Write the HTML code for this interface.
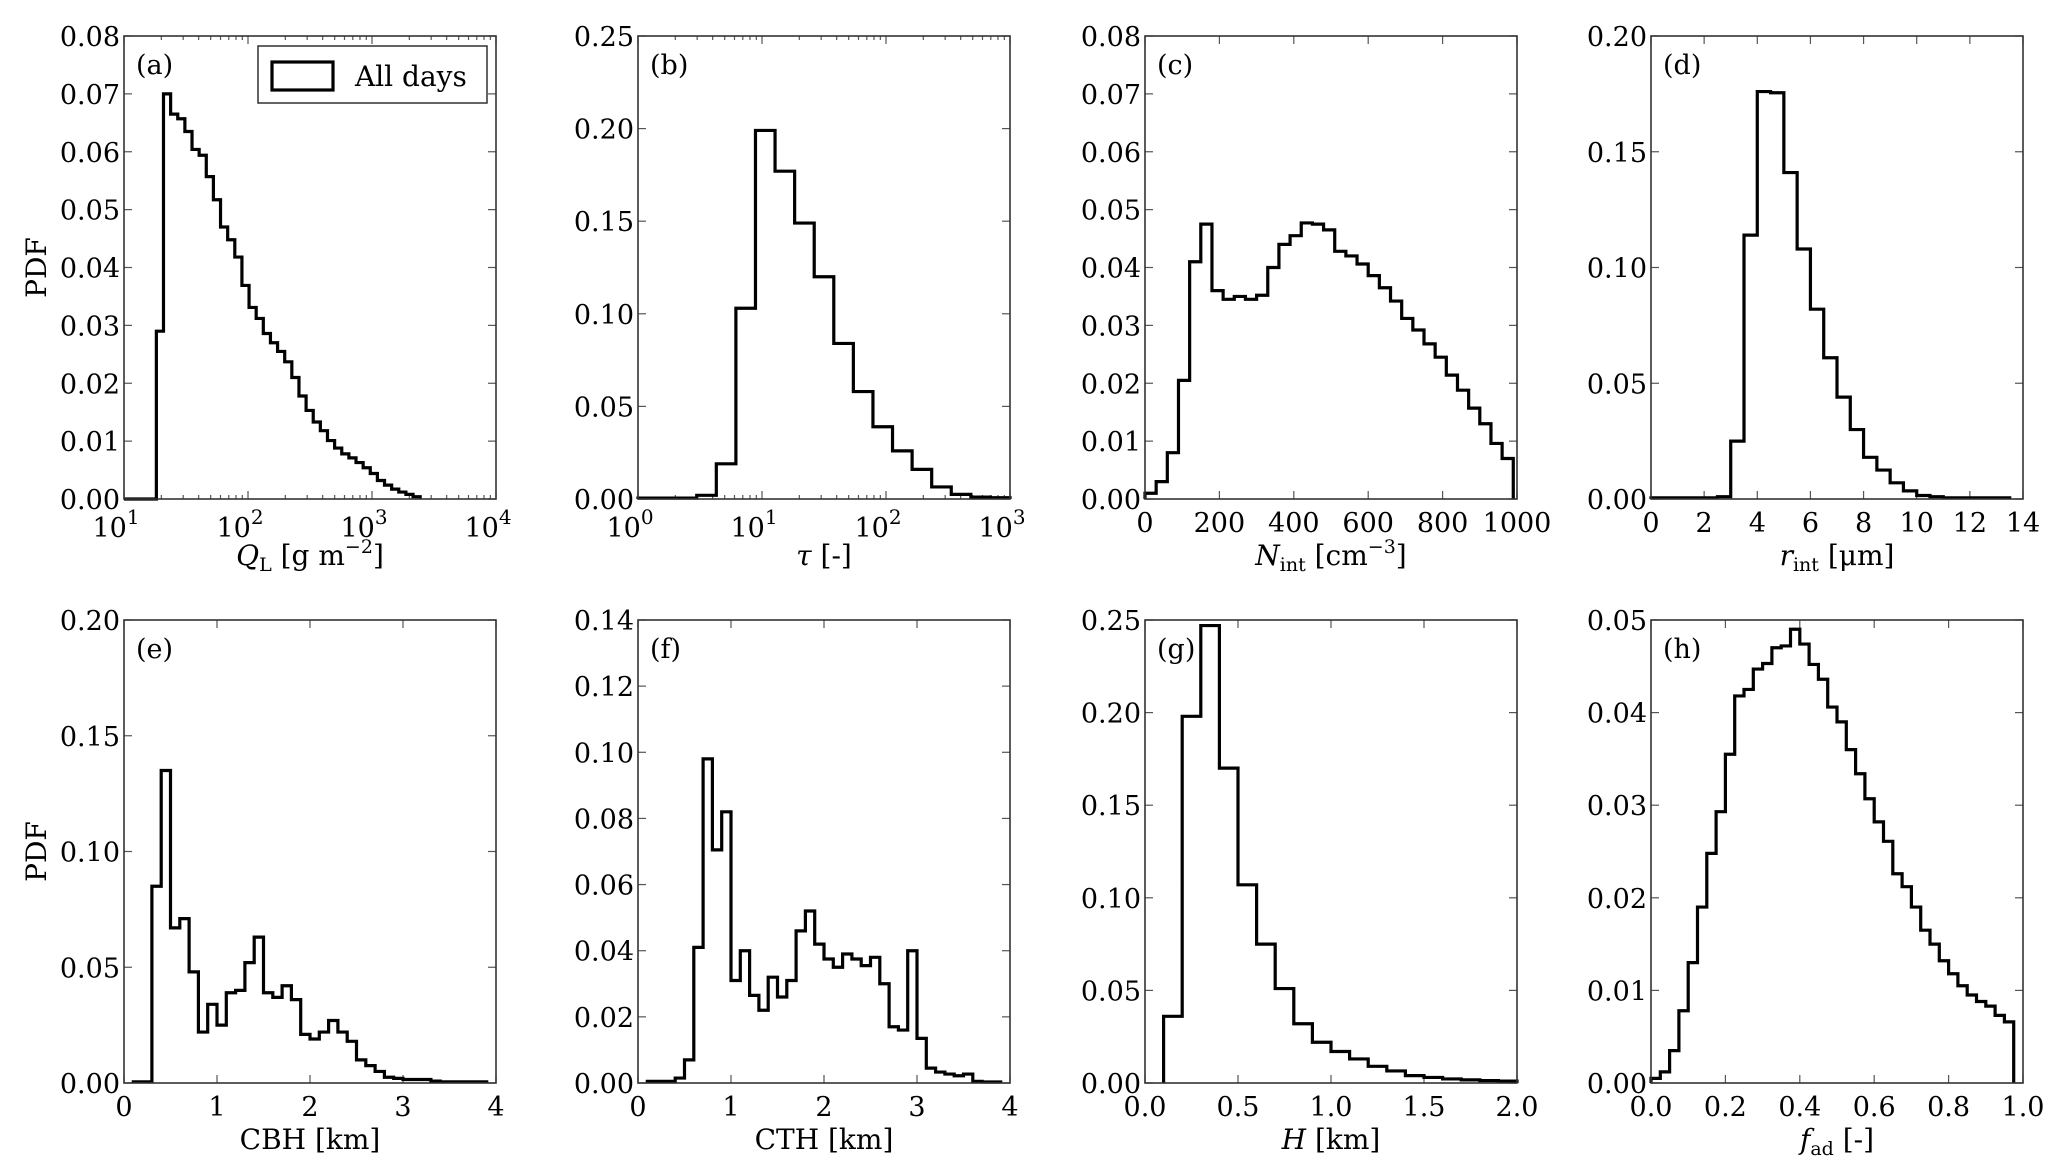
<!DOCTYPE html>
<html><head><meta charset="utf-8"><style>
html,body{margin:0;padding:0;background:#fff}
svg{display:block}
text{font-family:"DejaVu Serif","Liberation Serif",serif;fill:#000}
</style></head><body>
<svg id="fig" width="2068" height="1172" viewBox="0 0 2068 1172" xmlns="http://www.w3.org/2000/svg"></svg>
<script>
// ---- data (bin start, bin width, PDF values) ----
const aLogStart = 1.261, aLogWidth = 0.0575;
const aValues = [0.029,0.070,0.0665,0.0657,0.0635,0.0604,0.0594,0.0557,0.0517,0.0470,0.0448,0.0418,0.0369,0.0331,0.0312,0.0286,0.0270,0.0255,0.0237,0.0210,0.0178,0.0153,0.0133,0.0118,0.0101,0.0088,0.0078,0.0071,0.0063,0.0054,0.0044,0.0032,0.0024,0.0017,0.0012,0.0008,0.0004];
const bLogStart = 0, bLogWidth = 3/19;
const bValues = [0.0005,0.0005,0.0005,0.002,0.019,0.103,0.199,0.177,0.149,0.120,0.084,0.058,0.039,0.026,0.016,0.0065,0.0025,0.001,0.0007];
const cStart = 0, cWidth = 30;
const cValues = [0.001,0.003,0.008,0.0205,0.041,0.0475,0.036,0.0345,0.035,0.0345,0.0352,0.040,0.044,0.0455,0.0477,0.0475,0.0465,0.0428,0.042,0.0406,0.0386,0.0365,0.0342,0.0312,0.0292,0.0268,0.0245,0.0214,0.0188,0.0157,0.013,0.0096,0.007];
const dStart = 0, dWidth = 0.5;
const dValues = [0.0005,0.0005,0.0005,0.0005,0.0005,0.001,0.025,0.114,0.176,0.1755,0.141,0.108,0.082,0.061,0.044,0.030,0.018,0.0125,0.007,0.0035,0.0015,0.001,0.0005,0.0005,0.0005,0.0005,0.0005];
const eStart = 0.1, eWidth = 0.1;
const eValues = [0.0005,0.0005,0.085,0.135,0.067,0.071,0.048,0.022,0.034,0.025,0.039,0.040,0.052,0.063,0.039,0.037,0.042,0.036,0.021,0.019,0.022,0.027,0.022,0.018,0.010,0.0075,0.005,0.0025,0.002,0.0015,0.0015,0.0015,0.0008,0.0005,0.0005,0.0005,0.0005,0.0005];
const fStart = 0.1, fWidth = 0.1;
const fValues = [0.0005,0.0005,0.0005,0.0015,0.007,0.041,0.098,0.0705,0.082,0.031,0.040,0.0265,0.022,0.032,0.026,0.031,0.046,0.052,0.042,0.0375,0.035,0.039,0.0375,0.0355,0.038,0.030,0.017,0.016,0.040,0.0135,0.0045,0.0033,0.0027,0.0022,0.0027,0.0005,0.0003,0.0003];
const gStart = 0.1, gWidth = 0.1;
const gValues = [0.036,0.198,0.247,0.170,0.107,0.075,0.051,0.032,0.022,0.017,0.013,0.009,0.0065,0.004,0.003,0.0022,0.0017,0.0013,0.001];
const hStart = 0, hWidth = 0.025;
const hValues = [0.0005,0.0012,0.0035,0.0078,0.013,0.019,0.0248,0.0293,0.0355,0.0418,0.0425,0.0447,0.0453,0.047,0.0472,0.049,0.0474,0.0452,0.0436,0.0406,0.039,0.036,0.0334,0.0307,0.0282,0.0261,0.0226,0.0212,0.019,0.0165,0.015,0.0132,0.0118,0.0105,0.0095,0.0088,0.0083,0.0073,0.0066];
// tick labels
const yTicksA = [0,0.01,0.02,0.03,0.04,0.05,0.06,0.07,0.08];
const yTicksB = [0,0.05,0.10,0.15,0.20,0.25];
const yTicksD = [0,0.05,0.10,0.15,0.20];
const yTicksF = [0,0.02,0.04,0.06,0.08,0.10,0.12,0.14];
const yTicksH = [0,0.01,0.02,0.03,0.04,0.05];
const xTicksC = [0,200,400,600,800,1000];
const xTicksD = [0,2,4,6,8,10,12,14];
const xTicksE = [0,1,2,3,4];
const xTicksG = [0,0.5,1.0,1.5,2.0];
const xTicksH = [0,0.2,0.4,0.6,0.8,1.0];

const NS = "http://www.w3.org/2000/svg";
const svg = document.getElementById('fig');
function mk(tag, attrs, parent){
  const el = document.createElementNS(NS, tag);
  for (const k in attrs) el.setAttribute(k, attrs[k]);
  (parent||svg).appendChild(el);
  return el;
}
const W = 372, H = 463;
const cols = [124, 638, 1145, 1651];
const rows = [36, 620];

function panel(o){
  const g = mk('g', {});
  
  
  const x0 = o.x0, y0 = o.y0;
  const fx = o.log ? v => x0 + (v - o.xmin) / (o.xmax - o.xmin) * W
                   : v => x0 + (v - o.xmin) / (o.xmax - o.xmin) * W;
  const fy = v => y0 + H - (v - o.ymin) / (o.ymax - o.ymin) * H;
  // ticks
  const tk = mk('g', {stroke:'#555', 'stroke-width':1.2}, g);
  
  
  o.yticks.forEach(t => {
    const y = fy(t);
    mk('line', {x1:x0, x2:x0+8, y1:y, y2:y}, tk);
    mk('line', {x1:x0+W, x2:x0+W-8, y1:y, y2:y}, tk);
    const lab = mk('text', {x:x0-4, y:y+10, 'text-anchor':'end', 'font-size':27}, g);
    lab.textContent = t.toFixed(2);
    
    
  });
  if (o.log){
    for (let d = o.xmin; d <= o.xmax; d++){
      const x = fx(d);
      mk('line', {x1:x, x2:x, y1:y0+H, y2:y0+H-8}, tk);
      mk('line', {x1:x, x2:x, y1:y0, y2:y0+8}, tk);
      const lab = mk('text', {x:x-8, y:y0+H+38, 'text-anchor':'middle', 'font-size':27}, g);
      
      
      lab.textContent = '10';
      const sup = mk('tspan', {dy:-13, 'font-size':20}, lab);
      sup.textContent = String(d);
      if (d < o.xmax){
        for (let m = 2; m <= 9; m++){
          const xm = fx(d + Math.log10(m));
          mk('line', {x1:xm, x2:xm, y1:y0+H, y2:y0+H-4}, tk);
          mk('line', {x1:xm, x2:xm, y1:y0, y2:y0+4}, tk);
        }
      }
    }
  } else {
    o.xticks.forEach(t => {
      const x = fx(t);
      mk('line', {x1:x, x2:x, y1:y0+H, y2:y0+H-8}, tk);
      mk('line', {x1:x, x2:x, y1:y0, y2:y0+8}, tk);
      const lab = mk('text', {x:x, y:y0+H+33, 'text-anchor':'middle', 'font-size':27}, g);
      
      
      lab.textContent = o.fmt(t);
    });
  }
  // histogram
  let d = '';
  const base = fy(0);
  if (o.leadFrom !== undefined) d += 'M' + fx(o.leadFrom) + ',' + base + 'L' + fx(o.start) + ',' + base;
  else d += 'M' + fx(o.start) + ',' + base;
  o.values.forEach((v, i) => {
    const xa = fx(o.start + i * o.width), xb = fx(o.start + (i + 1) * o.width);
    d += 'L' + xa + ',' + fy(v) + 'L' + xb + ',' + fy(v);
  });
  d += 'L' + fx(o.start + o.values.length * o.width) + ',' + base;
  const p = mk('path', {d:d, fill:'none', stroke:'#000', 'stroke-width':3.2, 'stroke-linejoin':'miter'}, g);
  
  
  // frame
  const fr = mk('rect', {x:x0, y:y0, width:W, height:H, fill:'none', stroke:'#333', 'stroke-width':1.6}, g);
  
  
  // panel label
  const pl = mk('text', {x:x0+12, y:y0+38, 'font-size':27}, g);
  pl.textContent = '(' + o.id + ')';
  
  
  // x axis title
  const xt = mk('text', {x:x0+W/2, y:y0+H+66, 'text-anchor':'middle', 'font-size':28}, g);
  
  
  o.xlabel.forEach(part => {
    const s = mk('tspan', part.a || {}, xt);
    s.textContent = part.t;
  });
  if (o.pdf){
    const yl = mk('text', {x:0, y:0, 'text-anchor':'middle', 'font-size':28, transform:'translate(46,' + (y0+H/2) + ') rotate(-90)'}, g);
    yl.textContent = 'PDF';
    
    
  }
}
const it = {'font-style':'italic'};
const sub = {'font-size':19, dy:6};
const back = {dy:-6};
const supA = {'font-size':19, dy:-12};
const supB = {dy:12};
const f0 = t => String(t), f1 = t => t.toFixed(1);

panel({id:'a', x0:cols[0], y0:rows[0], log:true, xmin:1, xmax:4, ymin:0, ymax:0.08, yticks:yTicksA,
  start:aLogStart, width:aLogWidth, values:aValues, leadFrom:1, pdf:true,
  xlabel:[{t:'Q',a:it},{t:'L',a:sub},{t:' [g m',a:back},{t:'−2',a:supA},{t:']',a:supB}]});
panel({id:'b', x0:cols[1], y0:rows[0], log:true, xmin:0, xmax:3, ymin:0, ymax:0.25, yticks:yTicksB,
  start:bLogStart, width:bLogWidth, values:bValues,
  xlabel:[{t:'τ',a:it},{t:' [-]'}]});
panel({id:'c', x0:cols[2], y0:rows[0], xmin:0, xmax:1000, ymin:0, ymax:0.08, yticks:yTicksA, xticks:xTicksC, fmt:f0,
  start:cStart, width:cWidth, values:cValues,
  xlabel:[{t:'N',a:it},{t:'int',a:sub},{t:' [cm',a:back},{t:'−3',a:supA},{t:']',a:supB}]});
panel({id:'d', x0:cols[3], y0:rows[0], xmin:0, xmax:14, ymin:0, ymax:0.20, yticks:yTicksD, xticks:xTicksD, fmt:f0,
  start:dStart, width:dWidth, values:dValues,
  xlabel:[{t:'r',a:it},{t:'int',a:sub},{t:' [μm]',a:back}]});
panel({id:'e', x0:cols[0], y0:rows[1], xmin:0, xmax:4, ymin:0, ymax:0.20, yticks:yTicksD, xticks:xTicksE, fmt:f0,
  start:eStart, width:eWidth, values:eValues, pdf:true,
  xlabel:[{t:'CBH [km]'}]});
panel({id:'f', x0:cols[1], y0:rows[1], xmin:0, xmax:4, ymin:0, ymax:0.14, yticks:yTicksF, xticks:xTicksE, fmt:f0,
  start:fStart, width:fWidth, values:fValues,
  xlabel:[{t:'CTH [km]'}]});
panel({id:'g', x0:cols[2], y0:rows[1], xmin:0, xmax:2, ymin:0, ymax:0.25, yticks:yTicksB, xticks:xTicksG, fmt:f1,
  start:gStart, width:gWidth, values:gValues,
  xlabel:[{t:'H',a:it},{t:' [km]'}]});
panel({id:'h', x0:cols[3], y0:rows[1], xmin:0, xmax:1, ymin:0, ymax:0.05, yticks:yTicksH, xticks:xTicksH, fmt:f1,
  start:hStart, width:hWidth, values:hValues,
  xlabel:[{t:'f',a:it},{t:'ad',a:sub},{t:' [-]',a:back}]});

// legend
const lg = mk('g', {});


mk('rect', {x:258, y:46, width:229, height:57, fill:'#fff', stroke:'#222', 'stroke-width':1.4}, lg);
const sw = mk('rect', {x:272, y:62, width:61, height:28, fill:'none', stroke:'#000', 'stroke-width':3.2}, lg);


const lt = mk('text', {x:355, y:86, 'font-size':28}, lg);
lt.textContent = 'All days';


</script>
</body></html>
